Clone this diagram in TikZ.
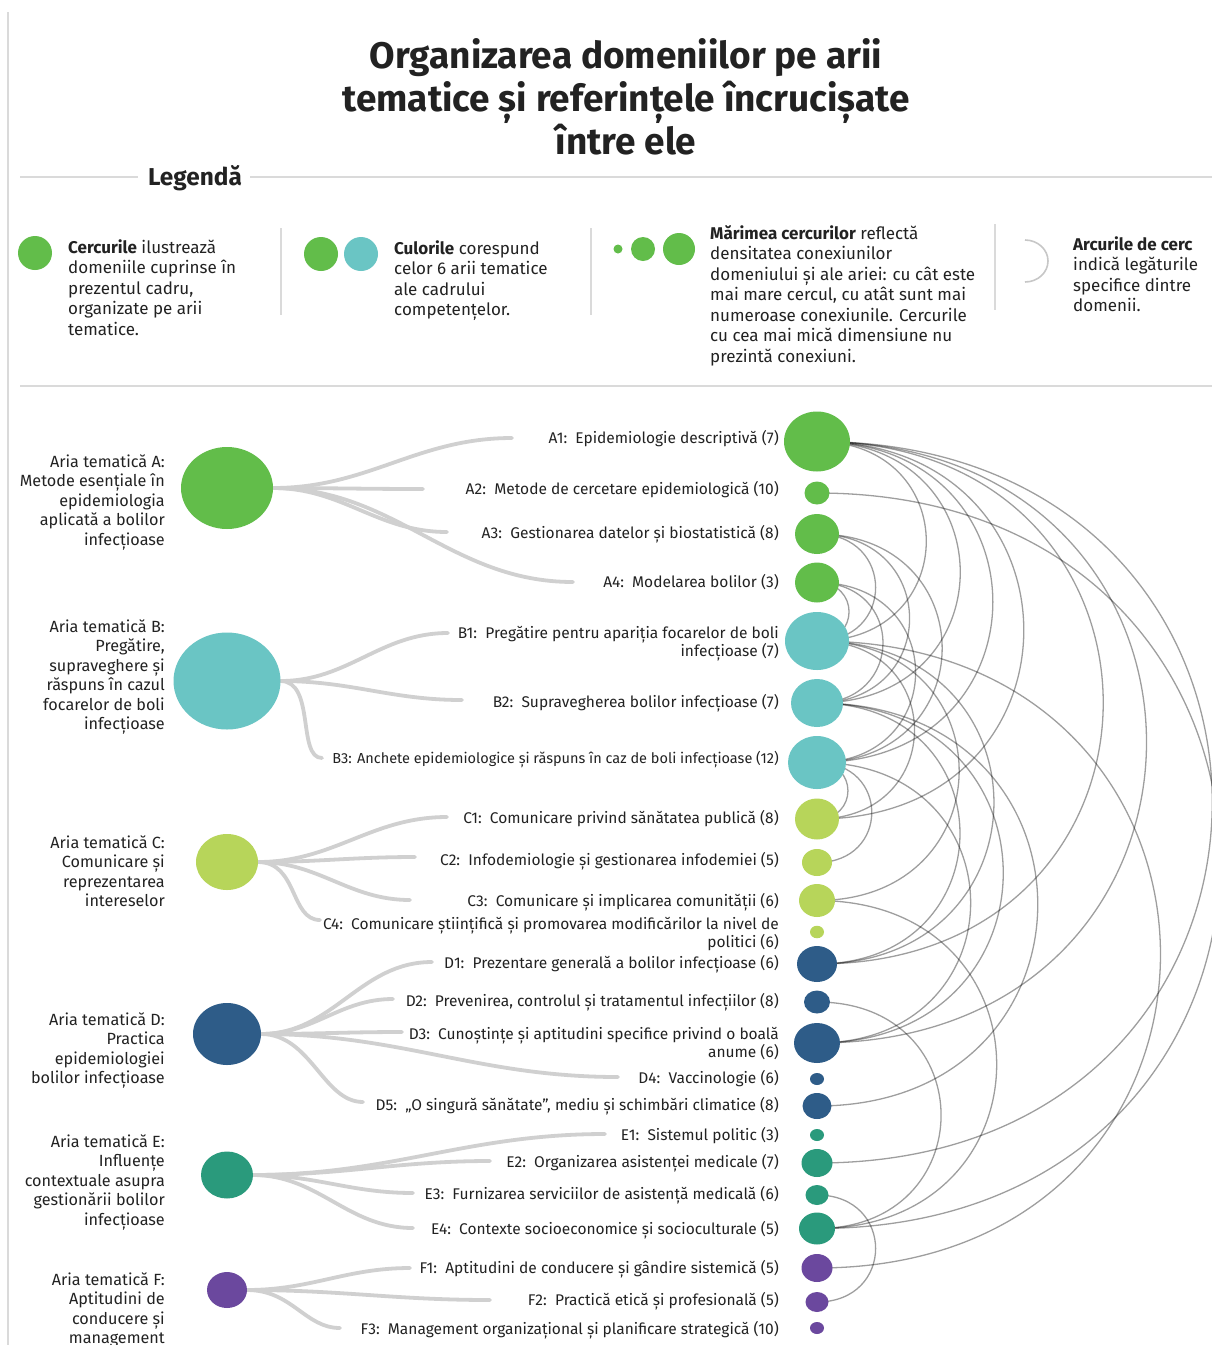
\documentclass[tikz,border=0pt]{standalone}
\usepackage{fontspec}
\setmainfont{Fira Sans}
\usetikzlibrary{shapes.geometric}
\definecolor{cA}{HTML}{62BD4A}
\definecolor{cB}{HTML}{6AC5C4}
\definecolor{cC}{HTML}{B7D55A}
\definecolor{cD}{HTML}{2E5C88}
\definecolor{cE}{HTML}{2A9A7C}
\definecolor{cF}{HTML}{6B489E}
\definecolor{txt}{HTML}{222222}
\definecolor{rulec}{HTML}{DADADA}
\definecolor{brc}{HTML}{D0D0D0}
\pgfdeclarelayer{back}
\pgfdeclarelayer{bg}
\pgfsetlayers{back,bg,main}
\tikzset{
  dom/.style={ellipse, inner sep=0pt, outer sep=0pt, draw=none},
  lbl/.style={font=\fontsize{15.5}{18}\selectfont, align=right, text=txt, inner sep=0pt, anchor=base east},
  arealbl/.style={font=\fontsize{16.2}{19.5}\selectfont, align=right, text=txt, inner sep=0pt, anchor=base east},
  legtxt/.style={font=\fontsize{17}{20.5}\selectfont, align=left, text=txt, inner sep=0pt, anchor=base west},
  branch/.style={draw=brc, line width=3.8pt, line cap=round, out=0, in=180},
  link/.style={draw=black, line width=1.3pt, opacity=.38, out=0, in=0, looseness=1.873},
  rulel/.style={draw=rulec, line width=1.2pt},
}
\newcommand{\dnode}[5]{\node[dom, fill=#2, minimum width=#3pt, minimum height=#4pt] (#1) at (817,#5) {};}
\begin{document}
\begin{tikzpicture}[x=1pt,y=-1pt]
\useasboundingbox (0,0) rectangle (1212,1345);
\begin{pgfonlayer}{back}
\fill[white] (0,0) rectangle (1212,1345);
\end{pgfonlayer}
% frame rules
\draw[rulel] (8,12) -- (8,1345);
\draw[rulel] (20,177) -- (138,177);
\draw[rulel] (250,177) -- (1212,177);
\draw[rulel] (20,386) -- (1212,386);
\draw[rulel] (281,228) -- (281,315);
\draw[rulel] (591,228) -- (591,315);
\draw[rulel] (995,224) -- (995,310);
% title
\node[font=\fontsize{37}{43}\selectfont\bfseries, align=center, text=txt] (title) at (626,97)
  {Organizarea domeniilor pe arii\\tematice și referințele încrucișate\\între ele};
\node[font=\fontsize{24.4}{26}\selectfont\bfseries, text=txt] (legh) at (195,178) {Legendă};
% legend
\node[circle, fill=cA, minimum size=34pt, inner sep=0pt] (g1) at (35,253) {};
\node[legtxt] (t1) at (68,335) {\textbf{Cercurile} ilustrează\\domeniile cuprinse în\\prezentul cadru,\\organizate pe arii\\tematice.};
\node[circle, fill=cA, minimum size=34pt, inner sep=0pt] (g2a) at (321,254) {};
\node[circle, fill=cB, minimum size=34pt, inner sep=0pt] (g2b) at (361,254) {};
\node[legtxt] (t2) at (394,315.5) {\textbf{Culorile} corespund\\celor 6 arii tematice\\ale cadrului\\competențelor.};
\node[circle, fill=cA, minimum size=9pt, inner sep=0pt] (g3a) at (618,249) {};
\node[circle, fill=cA, minimum size=24pt, inner sep=0pt] (g3b) at (643,249) {};
\node[circle, fill=cA, minimum size=32pt, inner sep=0pt] (g3c) at (679,249) {};
\node[legtxt] (t3) at (710,362) {\textbf{Mărimea cercurilor} reflectă\\densitatea conexiunilor\\domeniului și ale ariei: cu cât este\\mai mare cercul, cu atât sunt mai\\numeroase conexiunile. Cercurile\\cu cea mai mică dimensiune nu\\prezintă conexiuni.};
\coordinate (g4) at (1025,240);
\draw[draw=black!22, line width=1.6pt] (g4) arc[start angle=-90, end angle=90, x radius=23, y radius=21];
\node[legtxt] (t4) at (1073,311.5) {\textbf{Arcurile de cerc}\\indică legăturile\\specifice dintre\\domenii.};
% area circles
\node[dom, fill=cA, minimum width=92pt, minimum height=82pt] (arA) at (227,488) {};
\node[dom, fill=cB, minimum width=107pt, minimum height=97pt] (arB) at (227,681) {};
\node[dom, fill=cC, minimum width=62pt, minimum height=56pt] (arC) at (227,862) {};
\node[dom, fill=cD, minimum width=68pt, minimum height=62pt] (arD) at (227,1034) {};
\node[dom, fill=cE, minimum width=52pt, minimum height=47pt] (arE) at (227,1175) {};
\node[dom, fill=cF, minimum width=40pt, minimum height=36pt] (arF) at (227,1290) {};
% area labels (anchor = baseline of last line)
\node[arealbl] (lA) at (165,545) {Aria tematică A:\\Metode esențiale în\\epidemiologia\\aplicată a bolilor\\infecțioase};
\node[arealbl] (lB) at (165,729.5) {Aria tematică B:\\Pregătire,\\supraveghere și\\răspuns în cazul\\focarelor de boli\\infecțioase};
\node[arealbl] (lC) at (165,906.5) {Aria tematică C:\\Comunicare și\\reprezentarea\\intereselor};
\node[arealbl] (lD) at (165,1083.5) {Aria tematică D:\\Practica\\epidemiologiei\\bolilor infecțioase};
\node[arealbl] (lE) at (165,1225) {Aria tematică E:\\Influențe\\contextuale asupra\\gestionării bolilor\\infecțioase};
\node[arealbl] (lF) at (165,1343.5) {Aria tematică F:\\Aptitudini de\\conducere și\\management};
% domain circles
\dnode{a1}{cA}{66}{60}{441.5}
\dnode{a2}{cA}{25}{23}{493}
\dnode{a3}{cA}{44}{40}{534}
\dnode{a4}{cA}{44}{40}{582.5}
\dnode{b1}{cB}{64}{58}{641}
\dnode{b2}{cB}{52}{48}{703}
\dnode{b3}{cB}{58}{53}{762.5}
\dnode{c1}{cC}{44}{41}{819}
\dnode{c2}{cC}{30}{27}{862.5}
\dnode{c3}{cC}{36}{33}{900.5}
\dnode{c4}{cC}{14}{12.5}{932}
\dnode{d1}{cD}{40}{36}{964}
\dnode{d2}{cD}{26}{23}{1002}
\dnode{d3}{cD}{46}{40}{1043}
\dnode{d4}{cD}{14}{12}{1079}
\dnode{d5}{cD}{29}{26}{1106}
\dnode{e1}{cE}{14}{12}{1135}
\dnode{e2}{cE}{31}{28}{1163}
\dnode{e3}{cE}{23}{20}{1195}
\dnode{e4}{cE}{36}{32}{1228.5}
\dnode{f1}{cF}{31}{28}{1268}
\dnode{f2}{cF}{23}{20}{1302}
\dnode{f3}{cF}{14}{12}{1328}
% domain labels
\node[lbl] (la1) at (779,443) {A1:~~Epidemiologie descriptivă (7)};
\node[lbl] (la2) at (779,494) {A2:~~Metode de cercetare epidemiologică (10)};
\node[lbl] (la3) at (779,538) {A3:~~Gestionarea datelor și biostatistică (8)};
\node[lbl] (la4) at (779,587) {A4:~~Modelarea bolilor (3)};
\node[lbl] (lb1) at (779,656) {B1:~~Pregătire pentru apariția focarelor de boli\\infecțioase (7)};
\node[lbl] (lb2) at (779,707) {B2:~~Supravegherea bolilor infecțioase (7)};
\node[lbl, font=\fontsize{14.5}{18}\selectfont] (lb3) at (779,763) {B3: Anchete epidemiologice și răspuns în caz de boli infecțioase (12)};
\node[lbl] (lc1) at (779,823) {C1:~~Comunicare privind sănătatea publică (8)};
\node[lbl] (lc2) at (779,865) {C2:~~Infodemiologie și gestionarea infodemiei (5)};
\node[lbl] (lc3) at (779,906) {C3:~~Comunicare și implicarea comunității (6)};
\node[lbl] (lc4) at (779,947) {C4:~~Comunicare științifică și promovarea modificărilor la nivel de\\politici (6)};
\node[lbl] (ld1) at (779,968) {D1:~~Prezentare generală a bolilor infecțioase (6)};
\node[lbl] (ld2) at (779,1006) {D2:~~Prevenirea, controlul și tratamentul infecțiilor (8)};
\node[lbl] (ld3) at (779,1057) {D3:~~Cunoștințe și aptitudini specifice privind o boală\\anume (6)};
\node[lbl] (ld4) at (779,1083) {D4:~~Vaccinologie (6)};
\node[lbl] (ld5) at (779,1110) {D5:~~„O singură sănătate”, mediu și schimbări climatice (8)};
\node[lbl] (le1) at (779,1140) {E1:~~Sistemul politic (3)};
\node[lbl] (le2) at (779,1167) {E2:~~Organizarea asistenței medicale (7)};
\node[lbl] (le3) at (779,1199) {E3:~~Furnizarea serviciilor de asistență medicală (6)};
\node[lbl] (le4) at (779,1234) {E4:~~Contexte socioeconomice și socioculturale (5)};
\node[lbl] (lf1) at (779,1273) {F1:~~Aptitudini de conducere și gândire sistemică (5)};
\node[lbl] (lf2) at (779,1305) {F2:~~Practică etică și profesională (5)};
\node[lbl] (lf3) at (779,1334) {F3:~~Management organizațional și planificare strategică (10)};
% branch end points
\coordinate (eA1) at (512,438); \coordinate (eA2) at (423,489);
\coordinate (eA3) at (447,532); \coordinate (eA4) at (573,582);
\coordinate (eB1) at (448,633); \coordinate (eB2) at (462,700);
\coordinate (eB3) at (322,758);
\coordinate (eC1) at (447,817); \coordinate (eC2) at (415,857);
\coordinate (eC3) at (410,900); \coordinate (eC4) at (320,920);
\coordinate (eD1) at (432,962); \coordinate (eD2) at (393,999);
\coordinate (eD3) at (402,1032); \coordinate (eD4) at (618,1077);
\coordinate (eD5) at (363,1102);
\coordinate (eE1) at (605,1134); \coordinate (eE2) at (490,1161);
\coordinate (eE3) at (413,1193); \coordinate (eE4) at (413,1228);
\coordinate (eF1) at (410,1268); \coordinate (eF2) at (490,1300);
\coordinate (eF3) at (340,1328);
\begin{pgfonlayer}{bg}
\foreach \e in {A1,A2,A3,A4} \draw[branch] (arA) to (e\e);
\foreach \e in {B1,B2} \draw[branch] (arB) to (e\e);
\draw[branch] (arB) to[out distance=35pt, in distance=25pt] (eB3);
\foreach \e in {C1,C2,C3} \draw[branch] (arC) to (e\e);
\draw[branch] (arC) to[out distance=40pt, in distance=30pt] (eC4);
\foreach \e in {D1,D2,D3,D4} \draw[branch] (arD) to (e\e);
\draw[branch] (arD) to[out distance=50pt, in distance=40pt] (eD5);
\foreach \e in {E1,E2,E3,E4} \draw[branch] (arE) to (e\e);
\foreach \e in {F1,F2} \draw[branch] (arF) to (e\e);
\draw[branch] (arF) to[out distance=45pt, in distance=35pt] (eF3);
% cross-reference arcs
\foreach \p/\q in {a1/b1,a1/b2,a1/b3,a1/c1,a1/d1,a1/d3,a1/e2,a2/e4,
  a3/b1,a3/b2,a3/b3,a4/b1,a4/b2,a4/b3,
  b1/c1,b1/c3,b1/d1,b1/f1,b2/d1,b2/d3,b2/d5,b3/c1,b3/c2,b3/d3,
  c3/e4,d2/e4,e3/f2}
  \draw[link] (\p.center) to (\q.center);
\end{pgfonlayer}
\end{tikzpicture}
\end{document}
